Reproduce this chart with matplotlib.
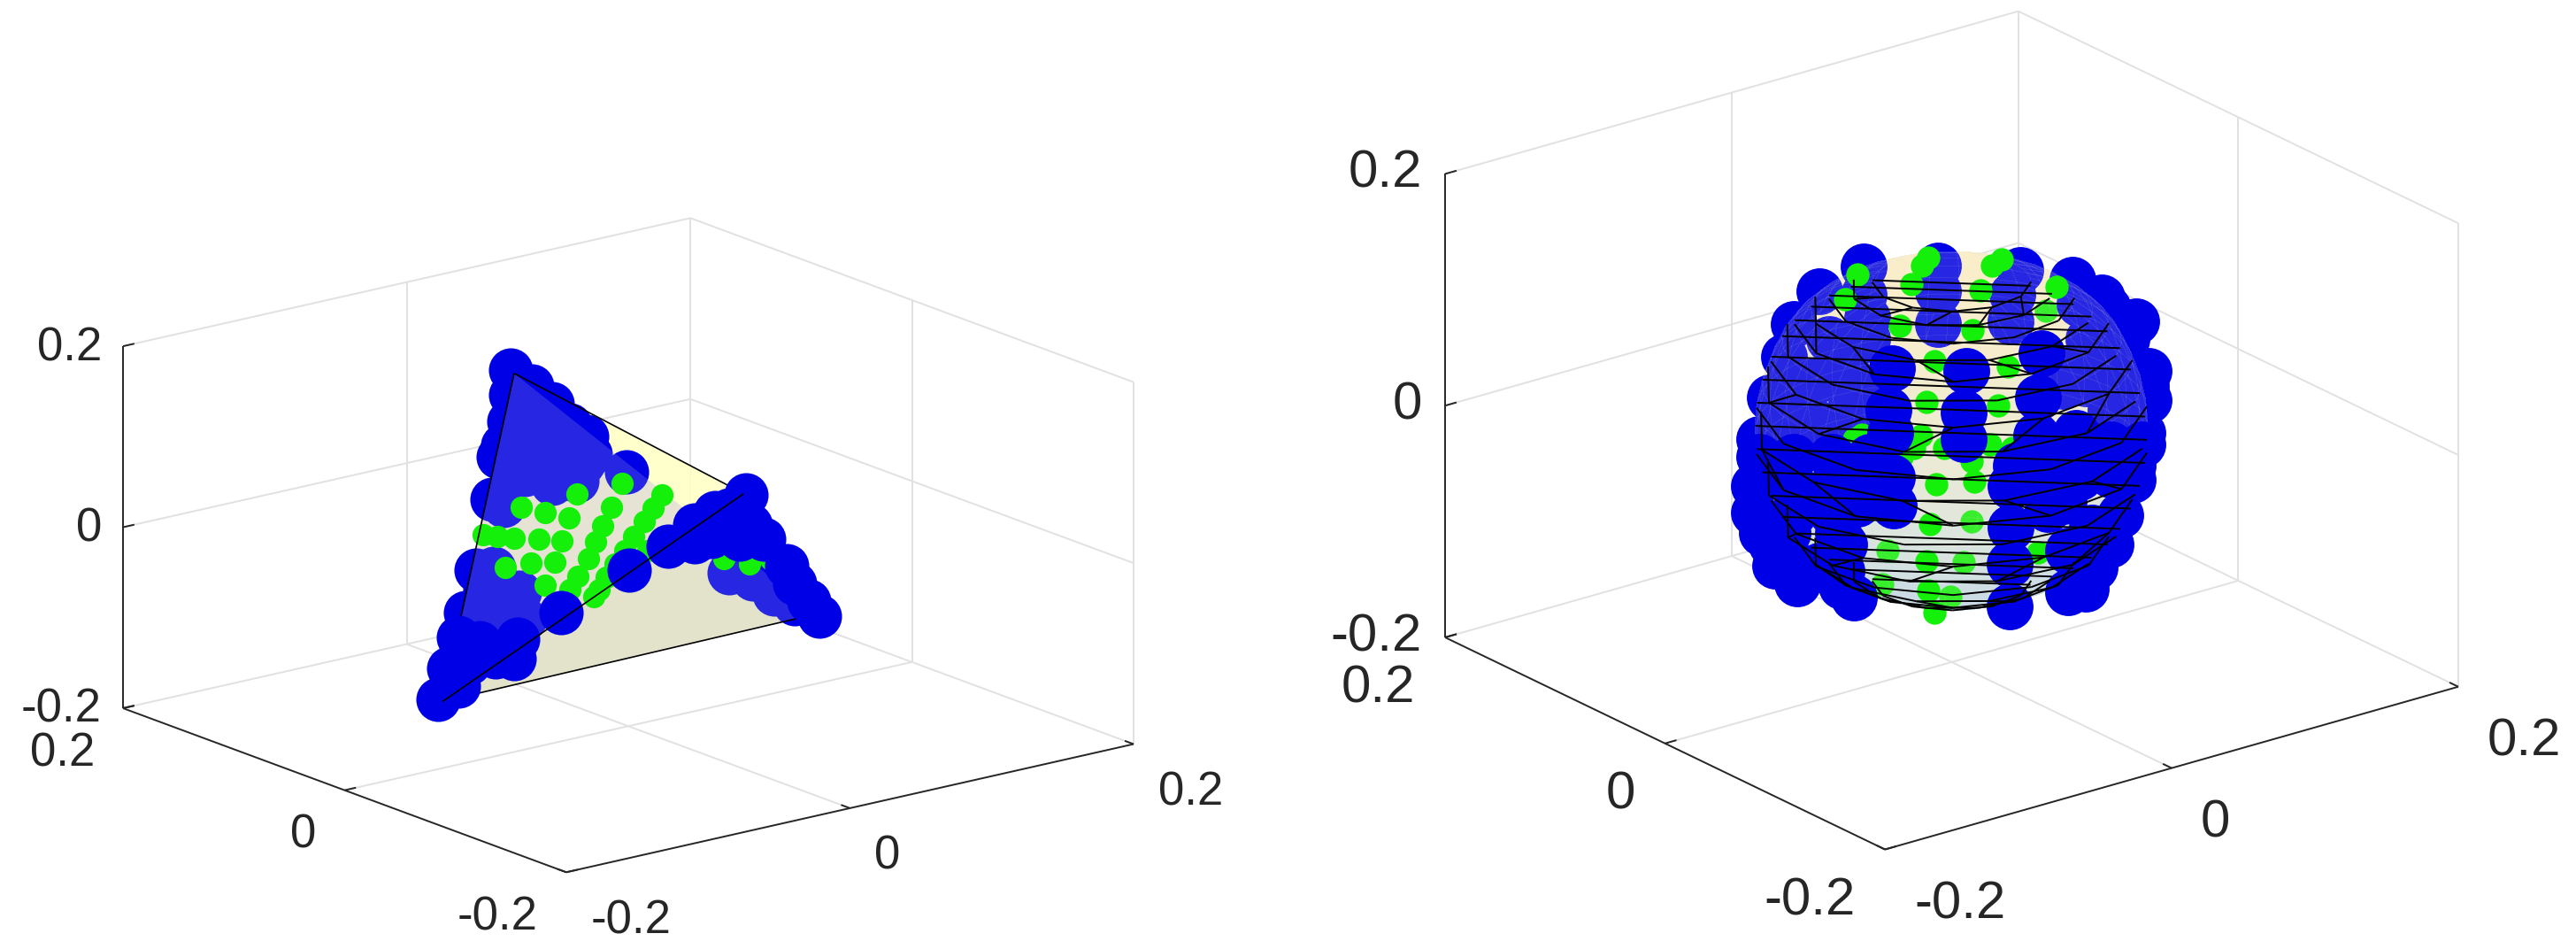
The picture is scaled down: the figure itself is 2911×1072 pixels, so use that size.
import numpy as np
import matplotlib
matplotlib.use("Agg")
import matplotlib.pyplot as plt
from matplotlib.colors import LinearSegmentedColormap
from matplotlib.transforms import offset_copy
from mpl_toolkits.mplot3d import proj3d
from mpl_toolkits.mplot3d.art3d import Poly3DCollection, Line3DCollection

plt.rcParams['font.family'] = ['Liberation Sans', 'DejaVu Sans']

W, H = 2911, 1072
ticks = [-0.2, 0, 0.2]
tick_labels = ['-0.2', '0', '0.2']

# depth of a marker can't be read off the picture, so x and z are read and the
# point is put on the vertical plane through the origin facing the viewer

# left panel: tetrahedron
tet_x = [-0.018, -0.092, 0.055, 0.058]
tet_y = [0.08, 0.05, -0.1, -0.03]
tet_z = [0.16, -0.163, -0.05, 0.05]

left_blue_back_x = [-.0514, -.0423, -.0514, -.0332, -.0439, -.0522, -.0256, -.0181, -.0347, -.0454,
                    -.0552, -.0568, -.0196, -.0302, -.0423, -.0514, -.0226, -.0332, -.0454, -.0006,
                    -.0598, -.0545, -.0666, -.0590, -.0476, -.0628, -.0712, -.0560, -.0454,
                    -.0628, .0442, .0548, .0639, .0730, -.0165, -.0256, -.0317]
left_blue_back_z = [.1935, .1756, .1659, .1561, .1496, .1366, .1333, .1203, .1268, .1203,
                    .1106, .0976, .0911, .0976, .0943, .0878, .0715, .0683, .0780, .0813,
                    .0504, .0439, -.0276, -.0260, -.0520, -.0488, -.0748, -.0780, -.0813,
                    -.0878, -.0309, -.0374, -.0537, -.0650, .1008, .1073, .0780]
left_blue_front_x = [-.0294, .0002, .0176, .0290, .0381, .0517, .0442, .0533,
                     .0366, .0487, .0593, .0290, .0692, .0730, .0791, .0836,
                     -.0742, -.0484, -.0651, -.0583, -.0697, -.0788, -.0742, -.0833, -.0500]
left_blue_front_z = [-.0748, -.0276, -.0016, .0228, .0358, .0553, .0390, .0228,
                     .0098, .0065, .0065, .0033, -.0228, -.0423, -.0618, -.0780,
                     -.1024, -.1041, -.1073, -.1236, -.1301, -.1366, -.1561, -.1707, -.1250]
left_green_x = [-.0029, -.0074, -.0112, -.0143, -.0173, -.0219, -.0256, .0146, .0108, .0070, .0024,
                -.0014, -.0059, -.0097, -.0127, -.0150, -.0226, -.0469, -.0366, -.0261, -.0393,
                -.0291, -.0636, -.0575, -.0499, -.0537, -.0428, -.0322, -.0366, .0085,
                .0419, .0530, .0624]
left_green_z = [.0683, .0423, .0211, .0033, -.0146, -.0341, -.0488, .0553, .0407, .0260, .0098,
                -.0065, -.0211, -.0358, -.0488, -.0569, .0569, .0423, .0358, .0302, .0065,
                .0049, .0114, .0098, .0081, -.0244, -.0202, -.0189, -.0439, -.0065,
                -.0146, -.0211, -.0163]

# right panel: cut sphere
ring_z = [.128, .122, .114, .104, .092, .078, .06, .04, .02, 0,
          -.02, -.04, -.06, -.078, -.092, -.104, -.114, -.122, -.13]
ring_rho = [.044, .056, .068, .078, .087, .094, .1, .105, .108, .109,
            .108, .105, .1, .094, .087, .078, .068, .056, .044]
mesh_angles = [-37, -67, -97, -127, -157, -187, -217]

right_blue_back_x = [-.0387, -.0060, .0302, .0532, -.0582, -.0387, -.0060, .0267, .0560, .0685,
                     -.0693, -.0373, -.0540, -.0060, .0260, .0602, .0769, -.0735, -.0589, .0755,
                     .0866, .0588, -.0798, -.0603, .0866, .0699, -.0847, .0838, .0796,
                     -.0443, -.0457, -.0457, -.0373, -.0680, -.0345, -.0693, -.0457,
                     .0490, .0699, .0671, .0657, .0810, .0643, .0727, .0852, .0713,
                     .0727, .0755, .0643, .0574]
right_blue_back_z = [.1413, .1425, .1387, .1298, .1197, .1171, .1197, .1171, .1095, .1057,
                     .0917, .0968, .0790, .0917, .0943, .0790, .0790, .0638, .0434, .0511,
                     .0511, .0409, .0282, .0079, .0257, .0180, -.0074, -.0023, -.0302,
                     .0231, .0485, .0739, .0790, .0384, .0333, .0079, -.0023,
                     .0384, .0536, .0790, .1146, .0943, .0943, .0739, .0384, .0384,
                     .0587, .0282, .0587, .0587]
right_blue_front_x = [-.0262, -.0276, -.0269, .0065, .0052, .0052, .0393, .0379, .0372, -.0255,
                      -.0262, -.0471, -.0429, -.0624, -.0485, -.0721, -.0791, -.0693, .0260, .0260,
                      .0253, .0253, .0420, .0420, .0511, .0511, .0615, .0629, .0560, .0602, .0755,
                      -.0847, -.0693, -.0526, -.0359, -.0867, -.0693, -.0526, -.0359, -.0867,
                      -.0693, -.0526, -.0415, -.0833, -.0499, -.0777, -.0680, -.0485,
                      .0699, .0838, .0699, .0796, .0490, .0629, .0741, .0420, .0281, .0546,
                      .0699, .0629, .0588, -.0721, -.0582]
right_blue_front_z = [.0536, .0180, -.0023, .0511, .0155, -.0074, .0663, .0282, -.0048, -.0645,
                      -.0404, -.0988, -.1446, -.1217, -.1217, -.0887, -.0988, -.1166, -.0480, -.0836,
                      -.1153, -.1522, -.0480, -.0683, -.1039, -.1395, -.0836, -.1115, -.0404, -.0124, -.0175,
                      -.0226, -.0226, -.0226, -.0226, -.0480, -.0480, -.0480, -.0404, -.0709,
                      -.0709, -.0709, -.0633, -.0887, -.0887, -.1166, -.1319, -.1344,
                      -.0124, -.0124, -.0379, -.0429, -.0607, -.0861, -.0734, -.0277, -.0302, -.0023,
                      -.0988, -.1186, -.1369, -.1090, -.1166]
right_green_x = [-.0415, -.0468, -.0102, -.0129, .0219, .0177, -.0178, .0128, .0462, -.0227, .0093,
                 -.0074, .0246, -.0109, .0205, -.0136, -.0164, -.0429, -.0394, -.0220, -.0032,
                 .0086, .0170, .0267, -.0067, .0100, -.0095, -.0109, .0379, -.0102, -.0074]
right_green_z = [.1349, .1133, .1489, .1425, .1476, .1425, .1260, .1209, .1242, .0904, .0866,
                 .0600, .0549, .0244, .0218, -.0048, -.0150, -.0074, -.0036, -.0226, -.0150,
                 -.0264, -.0124, -.0150, -.0467, -.0442, -.0810, -.1128, -.1052, -.1382, -.1573]
right_green_back_x = [.0414, .0086, -.0283, .0052, -.0304, -.0004, .0741]
right_green_back_z = [.1031, -.0785, -.1039, -.1141, -.1331, -.1433, -.0709]

BLUE = '#0000e6'
GREEN = '#14f00a'
AXIS = '#262626'
GRID = '#e1e1e1'

surf_cmap = LinearSegmentedColormap.from_list('surf', ['#bcd6ec', '#e6ebdc', '#fff0c8'])


def make_axes(fig, elev, azim, z_ratio, left_px, right_px):
    ax = fig.add_axes([0, 0, 0.3, 0.3 * W / H], projection='3d', proj_type='ortho')
    ax.view_init(elev=elev, azim=azim)
    ax.set_box_aspect((1, 1, z_ratio))
    ax.set_xlim(-0.2, 0.2, view_margin=0)
    ax.set_ylim(-0.2, 0.2, view_margin=0)
    ax.set_zlim(-0.2, 0.2, view_margin=0)
    ax.set_xticks([])
    ax.set_yticks([])
    ax.set_zticks([])
    ax.set_axis_off()
    ax.computed_zorder = False
    fit_box(fig, ax, left_px, right_px)
    return ax


def to_px(ax, x, y, z):
    px, py, _ = proj3d.proj_transform(x, y, z, ax.get_proj())
    return ax.transData.transform((px, py))


def fit_box(fig, ax, left_px, right_px):
    # size and move the axes so the box corners land where the reference has them
    target_l = np.array([left_px[0], H - left_px[1]])
    target_r = np.array([right_px[0], H - right_px[1]])
    side = 0.3 * W
    ox, oy = 0.0, 0.0
    for i in range(3):
        ax.set_position([ox / W, oy / H, side / W, side / H])
        ax.apply_aspect()
        a = to_px(ax, -0.2, 0.2, -0.2)
        b = to_px(ax, 0.2, -0.2, -0.2)
        side *= (target_r[0] - target_l[0]) / (b[0] - a[0])
        ax.set_position([ox / W, oy / H, side / W, side / H])
        ax.apply_aspect()
        a = to_px(ax, -0.2, 0.2, -0.2)
        ox += target_l[0] - a[0]
        oy += target_l[1] - a[1]
    ax.set_position([ox / W, oy / H, side / W, side / H])
    ax.apply_aspect()


def draw_frame(fig, ax, fontsize, tick_len, y_off, x_off, z_off):
    lo, hi = -0.2, 0.2
    grid = [[(lo, hi, lo), (lo, hi, hi)], [(lo, hi, hi), (hi, hi, hi)], [(hi, hi, hi), (hi, lo, hi)],
            [(hi, lo, hi), (hi, lo, lo)], [(hi, hi, lo), (hi, hi, hi)],
            [(lo, hi, lo), (hi, hi, lo)], [(hi, hi, lo), (hi, lo, lo)]]
    for t in ticks[1:2]:
        grid += [[(lo, hi, t), (hi, hi, t)], [(hi, hi, t), (hi, lo, t)],
                 [(t, hi, lo), (t, hi, hi)], [(hi, t, lo), (hi, t, hi)],
                 [(t, lo, lo), (t, hi, lo)], [(lo, t, lo), (hi, t, lo)]]
    ax.add_collection3d(Line3DCollection(grid, colors=GRID, linewidths=1.4, zorder=0))

    axes = [[(lo, hi, lo), (lo, hi, hi)], [(lo, lo, lo), (hi, lo, lo)], [(lo, lo, lo), (lo, hi, lo)]]
    for t in ticks:
        axes += [[(lo, hi, t), (lo + tick_len, hi, t)],
                 [(t, lo, lo), (t, lo + tick_len, lo)],
                 [(lo, t, lo), (lo + tick_len, t, lo)]]
    ax.add_collection3d(Line3DCollection(axes, colors=AXIS, linewidths=1.4, zorder=0.5))

    trans_z = offset_copy(ax.transData, fig=fig, x=z_off[0], y=z_off[1], units='dots')
    trans_y = offset_copy(ax.transData, fig=fig, x=y_off[0], y=y_off[1], units='dots')
    trans_x = offset_copy(ax.transData, fig=fig, x=x_off[0], y=x_off[1], units='dots')
    for t, lab in zip(ticks, tick_labels):
        ax.text(lo, hi, t, lab, fontsize=fontsize, color=AXIS, ha='right', va='center', transform=trans_z)
        ax.text(lo, t, lo, lab, fontsize=fontsize, color=AXIS, ha='right', va='center', transform=trans_y)
        ax.text(t, lo, lo, lab, fontsize=fontsize, color=AXIS, ha='left', va='center', transform=trans_x)


def markers(ax, x, z, azim, size, color, zorder):
    x = np.array(x)
    y = x * np.tan(np.radians(azim + 90))
    ax.scatter(x, y, z, s=size, c=color, linewidths=0, depthshade=False, zorder=zorder, clip_on=False)


def draw_tetra(ax, azim):
    p = list(zip(tet_x, tet_y, tet_z))
    T, L, R, V = p
    base = [[T, V, R], [L, V, R], [T, L, R]]
    base_col = [(1, 1, 0.78, 0.9), (0.89, 0.885, 0.78, 1), (0.9, 0.89, 0.83, 1)]
    ax.add_collection3d(Poly3DCollection(base, facecolors=base_col, edgecolors='none', zorder=1))
    markers(ax, left_blue_back_x, left_blue_back_z, azim, 1300, BLUE, 2)
    film = Poly3DCollection([[T, L, R]], facecolors=[(0.9, 0.9, 0.85, 0.17)], edgecolors='none', zorder=3)
    ax.add_collection3d(film)
    markers(ax, left_green_x, left_green_z, azim, 330, GREEN, 4)
    # most edges go under the front markers, only L-V runs over them
    ax.add_collection3d(Line3DCollection([[T, V], [T, L], [L, R], [V, R]], colors='k', linewidths=1.2, zorder=4.5))
    markers(ax, left_blue_front_x, left_blue_front_z, azim, 1300, BLUE, 5)
    ax.add_collection3d(Line3DCollection([[L, V]], colors='k', linewidths=1.2, zorder=6))


def ring_pt(k, ang):
    a = np.radians(ang)
    return (ring_rho[k] * np.cos(a), ring_rho[k] * np.sin(a), ring_z[k])


def draw_sphere(ax, azim):
    angles = np.arange(0, 360, 10)
    quads, cols = [], []
    for k in range(len(ring_z) - 1):
        mid = (ring_z[k] + ring_z[k + 1]) / 2
        c = surf_cmap((mid + 0.13) / 0.26)
        for a, b in zip(angles, np.roll(angles, -1)):
            quads.append([ring_pt(k, a), ring_pt(k, b), ring_pt(k + 1, b), ring_pt(k + 1, a)])
            cols.append(c)
    # the two end caps
    for k in (0, len(ring_z) - 1):
        quads.append([ring_pt(k, a) for a in angles])
        cols.append(surf_cmap(ring_z[k] / 0.26 + 0.5))
    ax.add_collection3d(Poly3DCollection(quads, facecolors=cols, edgecolors='none', antialiased=False, zorder=1))

    markers(ax, right_green_back_x, right_green_back_z, azim, 360, GREEN, 2)
    markers(ax, right_blue_back_x, right_blue_back_z, azim, 1450, BLUE, 2)
    film_cols = [(0.9, 0.9, 0.85, 0.09)] * len(quads)
    ax.add_collection3d(Poly3DCollection(quads, facecolors=film_cols, edgecolors='none', antialiased=False, zorder=3))
    markers(ax, right_green_x, right_green_z, azim, 360, GREEN, 4)
    markers(ax, right_blue_front_x, right_blue_front_z, azim, 1450, BLUE, 5)

    segs = []
    for k in range(len(ring_z)):
        step = k % 2
        pts = [ring_pt(k, a - 15 * step) for a in mesh_angles]
        segs += [[pts[i], pts[i + 1]] for i in range(len(pts) - 1)]
        segs.append([ring_pt(k, mesh_angles[0] - 8), ring_pt(k, mesh_angles[-1] - 4)])
        if k < len(ring_z) - 1:
            nxt = [ring_pt(k + 1, a - 15 * ((k + 1) % 2)) for a in mesh_angles]
            if k % 3 == 0:
                segs += [[pts[i], nxt[i]] for i in range(1, len(pts) - 1)]
    ax.add_collection3d(Line3DCollection(segs, colors='k', linewidths=1.4, zorder=6))


fig = plt.figure(figsize=(W / 100, H / 100), dpi=100)

azim_l = -128.0
ax1 = make_axes(fig, 16.8, azim_l, 0.525, (139, 800), (1281, 848))
draw_frame(fig, ax1, 38, 0.008, (-32, -51), (28, -55), (-24, -2))
draw_tetra(ax1, azim_l)

azim_r = -127.5
ax2 = make_axes(fig, 21.7, azim_r, 0.69, (1633, 720), (2778, 780))
draw_frame(fig, ax2, 43, 0.008, (-34, -58), (33, -62), (-26, 0))
draw_sphere(ax2, azim_r)

fig.savefig('out.png', dpi=100, facecolor='white')
